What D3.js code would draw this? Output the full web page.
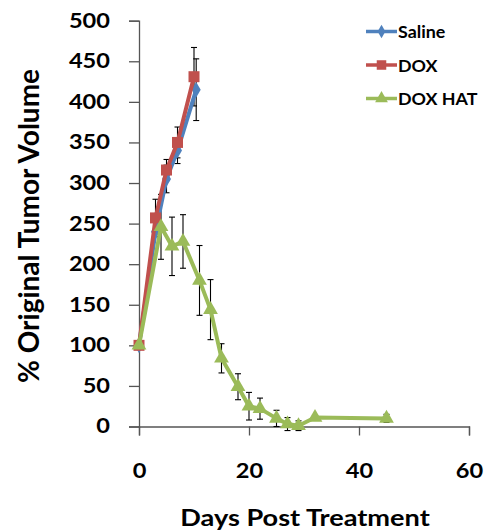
<!DOCTYPE html>
<html>
<head>
<meta charset="utf-8">
<script src="https://cdn.jsdelivr.net/npm/d3@7"></script>
<style>
  body { margin: 0; background: #fff; }
  text { font-family: Lato, "Open Sans", sans-serif; font-weight: bold; fill: #000; }
</style>
</head>
<body>
<div id="chart"></div>
<script>
// data
var salineDays = [0, 3, 5, 7, 10.4];
var salineVals = [100, 240, 305, 340, 415];
var salineErr  = [0, 0, 17, 16, 38];

var doxDays = [0, 3, 5, 7, 10];
var doxVals = [100, 257, 316, 350, 431];
var doxErr  = [0, 23, 13, 19, 36];

var hatDays = [0, 4, 6, 8, 11, 13, 15, 18, 20, 22, 25, 27, 29, 32, 45];
var hatVals = [100, 246, 222, 228, 180, 144, 84, 49, 25, 22, 10, 3, 1, 11, 10];
var hatErr  = [0, 40, 36, 33, 43, 37, 18, 16, 17, 13, 10, 8, 6, 2, 5];

var xTicks = [0, 20, 40, 60];
var yTicks = [0, 50, 100, 150, 200, 250, 300, 350, 400, 450, 500];

var width = 485, height = 531;
var stretch = 1.18; // the picture's text is a bit wide
var svg = d3.select("#chart").append("svg")
    .attr("width", width)
    .attr("height", height);

var x = d3.scaleLinear().domain([0, 60]).range([139, 469]);
var y = d3.scaleLinear().domain([0, 500]).range([426.5, 20.7]);

// axes
var yAxis = d3.axisLeft(y).tickValues(yTicks).tickSize(10).tickPadding(14.6);
var xAxis = d3.axisBottom(x).tickValues(xTicks).tickSize(9).tickPadding(28.5);

var gy = svg.append("g").attr("transform", "translate(139,0)").call(yAxis);
var gx = svg.append("g").attr("transform", "translate(0,426.5)").call(xAxis);
[gx, gy].forEach(function (g) {
    g.select(".domain").attr("stroke", "#555").attr("stroke-width", 1.3);
    g.selectAll(".tick line").attr("stroke", "#555").attr("stroke-width", 1.3);
    g.selectAll(".tick text")
        .style("font-size", "20px")
        .attr("fill", "#000")
        .attr("transform", "scale(" + stretch + ",1)");
});

svg.append("text")
    .attr("transform", "translate(39,226) rotate(-90)")
    .attr("text-anchor", "middle")
    .style("font-size", "28px")
    .text("% Original Tumor Volume");

svg.append("text")
    .attr("transform", "translate(305,526) scale(" + stretch + ",1)")
    .attr("text-anchor", "middle")
    .style("font-size", "23px")
    .text("Days Post Treatment");

var series = [
    {name: "Saline", days: salineDays, vals: salineVals, err: salineErr, color: "#4F81BD", shape: d3.symbolDiamond, size: 70},
    {name: "DOX", days: doxDays, vals: doxVals, err: doxErr, color: "#C0504D", shape: d3.symbolSquare, size: 121},
    {name: "DOX HAT", days: hatDays, vals: hatVals, err: hatErr, color: "#9BBB59", shape: d3.symbolTriangle, size: 95}
];

series.forEach(function (s) {
    s.pts = s.days.map(function (d, i) { return {d: d, v: s.vals[i], e: s.err[i]}; });
});

// error bars
series.forEach(function (s) {
    var eb = svg.append("g").attr("stroke", "#000").attr("stroke-width", 1.1);
    s.pts.filter(function (p) { return p.e > 0; }).forEach(function (p) {
        var cx = x(p.d);
        eb.append("line").attr("x1", cx).attr("x2", cx).attr("y1", y(p.v - p.e)).attr("y2", y(p.v + p.e));
        eb.append("line").attr("x1", cx - 3).attr("x2", cx + 3).attr("y1", y(p.v - p.e)).attr("y2", y(p.v - p.e));
        eb.append("line").attr("x1", cx - 3).attr("x2", cx + 3).attr("y1", y(p.v + p.e)).attr("y2", y(p.v + p.e));
    });
});

// lines and markers
var line = d3.line().x(function (p) { return x(p.d); }).y(function (p) { return y(Math.max(p.v, 0)); });
series.forEach(function (s) {
    svg.append("path")
        .datum(s.pts)
        .attr("fill", "none")
        .attr("stroke", s.color)
        .attr("stroke-width", 4)
        .attr("stroke-linejoin", "round")
        .attr("d", line);
    svg.append("g").selectAll("path")
        .data(s.pts)
        .enter()
        .append("path")
        .attr("d", d3.symbol().type(s.shape).size(s.size))
        .attr("transform", function (p) { return "translate(" + x(p.d) + "," + y(p.v) + ")"; })
        .attr("fill", s.color);
});

// legend
series.forEach(function (s, i) {
    var ly = 31.5 + i * 33.5;
    var lg = svg.append("g");
    lg.append("line").attr("x1", 366).attr("x2", 397).attr("y1", ly).attr("y2", ly)
        .attr("stroke", s.color).attr("stroke-width", 3.5);
    lg.append("path")
        .attr("d", d3.symbol().type(s.shape).size(s.size * 0.75))
        .attr("transform", "translate(381.5," + ly + ")")
        .attr("fill", s.color);
    lg.append("text")
        .attr("transform", "translate(398," + (ly + 6.5) + ") scale(1.05,1)")
        .style("font-size", "17px")
        .text(s.name);
});
</script>
</body>
</html>
